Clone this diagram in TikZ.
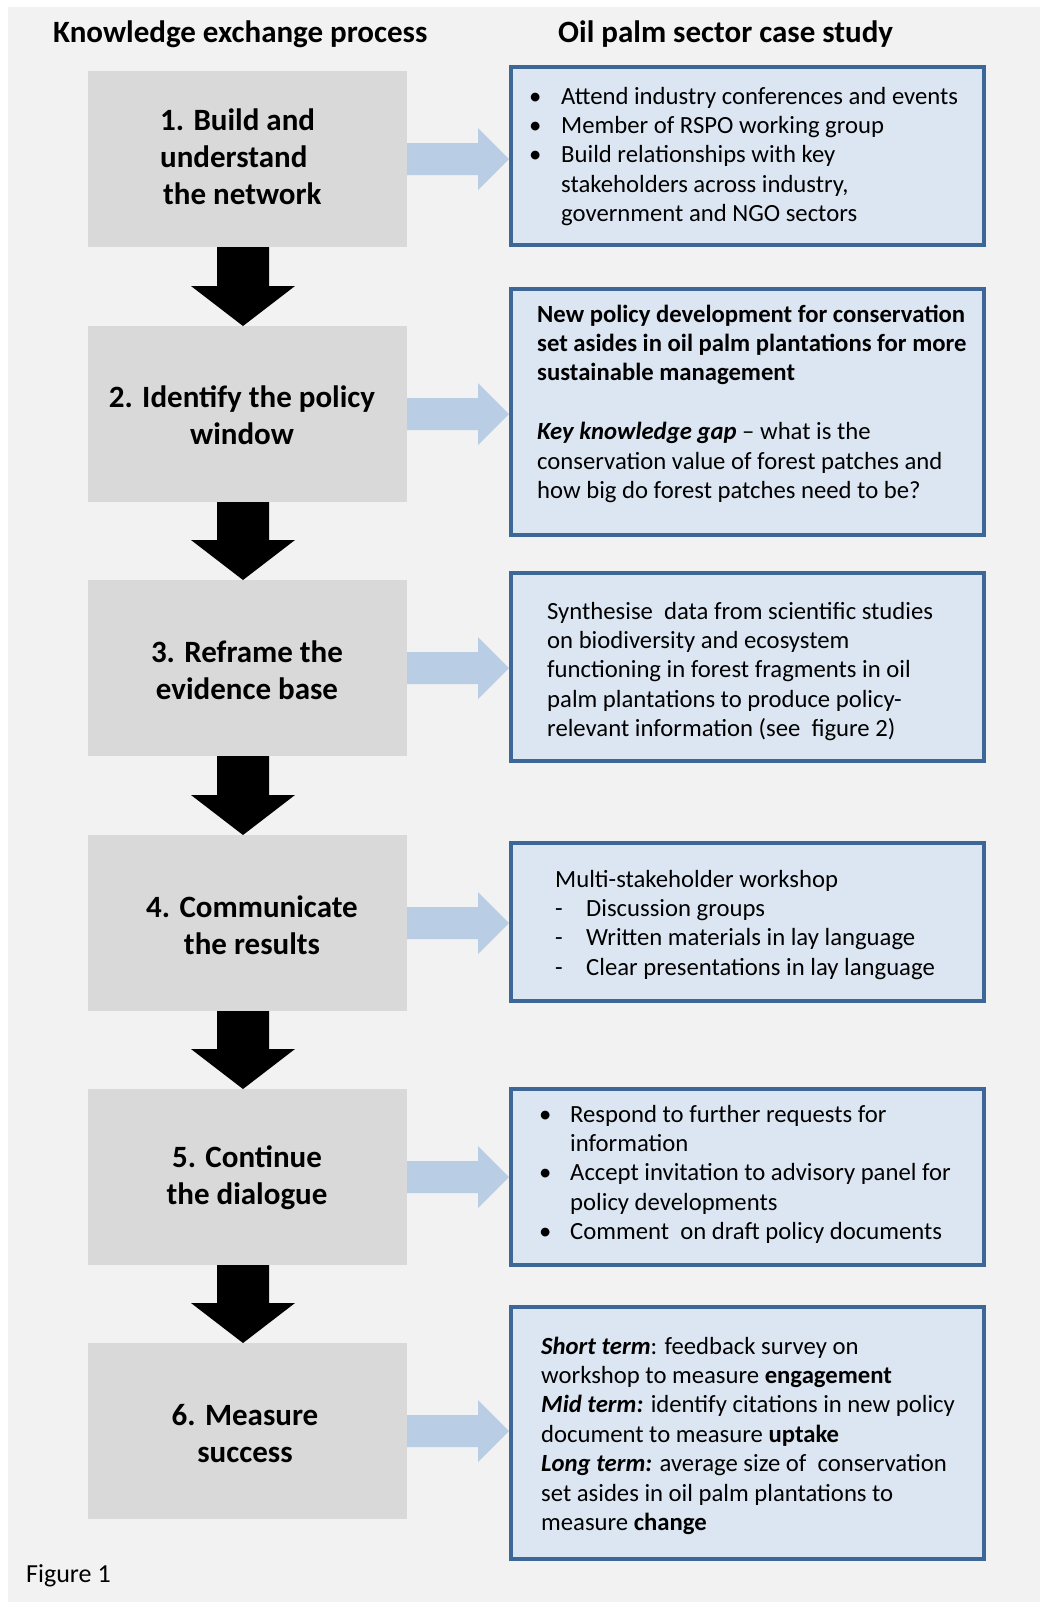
\documentclass[tikz,border=0pt]{standalone}
\usepackage{fontspec}
\setmainfont{Carlito}
\usetikzlibrary{calc}
\definecolor{bgc}{HTML}{F2F2F2}
\definecolor{grayc}{HTML}{D9D9D9}
\definecolor{arrowblue}{HTML}{B9CDE5}
\definecolor{boxfill}{HTML}{DCE6F2}
\definecolor{boxline}{HTML}{3D6796}
\newcommand{\bulA}{\makebox[32pt][l]{•}}
\newcommand{\indA}{\hspace*{32pt}}
\newcommand{\bulB}{\makebox[31pt][l]{•}}
\newcommand{\indB}{\hspace*{31pt}}
\newcommand{\dshB}{\makebox[31pt][l]{-}}
\newcommand{\dblsp}{\hspace{0.45em}}
\begin{document}
\begin{tikzpicture}[x=1pt,y=-1pt,
  stepbox/.style={fill=grayc, minimum width=319pt, minimum height=176pt, inner sep=0pt, outer sep=0pt},
  steptext/.style={anchor=base, inner sep=0pt, font=\fontsize{31}{37}\selectfont\bfseries},
  infobox/.style={fill=boxfill, draw=boxline, line width=4pt, minimum width=473pt, inner sep=0pt},
  info/.style={anchor=base west, inner sep=0pt, font=\fontsize{24.7}{29.4}\selectfont},
  head/.style={anchor=base west, inner sep=0pt, font=\fontsize{31}{37}\selectfont\bfseries},
  sidearrow/.style={fill=arrowblue},
  downarrow/.style={fill=black}
]
\useasboundingbox[fill=white] (0,0) rectangle (1040,1607);
\fill[bgc] (8,7) rectangle (1040,1602);

% headers
\node[head] (h1) at (53,42) {Knowledge exchange process};
\node[head] (h2) at (558,42) {Oil palm sector case study};

% gray step boxes
\node[stepbox] (g1) at (247.5,159) {};
\node[stepbox] (g2) at (247.5,414) {};
\node[stepbox] (g3) at (247.5,668) {};
\node[stepbox] (g4) at (247.5,923) {};
\node[stepbox] (g5) at (247.5,1177) {};
\node[stepbox] (g6) at (247.5,1431) {};

\node[steptext, anchor=base west] (s1) at (160,130) {\parbox[t]{200pt}{\raggedright 1. Build and\\understand\\\hspace*{3pt}the network}};
\node[steptext] (s2) at (242,407) {\parbox[t]{300pt}{\centering 2. Identify the policy\\window}};
\node[steptext] (s3) at (247,662) {\parbox[t]{300pt}{\centering 3. Reframe the\\evidence base}};
\node[steptext] (s4) at (252,917) {\parbox[t]{300pt}{\centering 4. Communicate\\the results}};
\node[steptext] (s5) at (247,1167) {\parbox[t]{300pt}{\centering 5. Continue\\the dialogue}};
\node[steptext] (s6) at (245,1425) {\parbox[t]{300pt}{\centering 6. Measure\\success}};

% blue info boxes
\node[infobox, minimum height=178pt] (b1) at (747.5,156) {};
\node[infobox, minimum height=246pt] (b2) at (747.5,412) {};
\node[infobox, minimum height=188pt] (b3) at (747.5,667) {};
\node[infobox, minimum height=158pt] (b4) at (747.5,922) {};
\node[infobox, minimum height=176pt] (b5) at (747.5,1177) {};
\node[infobox, minimum height=252pt] (b6) at (747.5,1433) {};

\node[info] (i1) at (529,104) {\parbox[t]{455pt}{%
\bulA Attend industry conferences and events\\
\bulA Member of RSPO working group\\
\bulA Build relationships with key\\
\indA stakeholders across industry,\\
\indA government and NGO sectors}};

\node[info] (i2) at (537,322) {\parbox[t]{455pt}{%
\textbf{New policy development for conservation}\\
\textbf{set asides in oil palm plantations for more}\\
\textbf{sustainable management}\\[29.4pt]
\textbf{\textit{Key knowledge gap}} – what is the\\
conservation value of forest patches and\\
how big do forest patches need to be?}};

\node[info] (i3) at (547,619) {\parbox[t]{455pt}{%
Synthesise\dblsp data from scientific studies\\
on biodiversity and ecosystem\\
functioning in forest fragments in oil\\
palm plantations to produce policy-\\
relevant information (see\dblsp figure 2)}};

\node[info] (i4) at (555,887) {\parbox[t]{455pt}{%
Multi-stakeholder workshop\\
\dshB Discussion groups\\
\dshB Written materials in lay language\\
\dshB Clear presentations in lay language}};

\node[info] (i5) at (539,1122) {\parbox[t]{455pt}{%
\bulB Respond to further requests for\\
\indB information\\
\bulB Accept invitation to advisory panel for\\
\indB policy developments\\
\bulB Comment\dblsp on draft policy documents}};

\node[info] (i6) at (541,1354) {\parbox[t]{455pt}{%
\textbf{\textit{Short term}}: feedback survey on\\
workshop to measure \textbf{engagement}\\
\textbf{\textit{Mid term:}} identify citations in new policy\\
document to measure \textbf{uptake}\\
\textbf{\textit{Long term:}} average size of\dblsp conservation\\
set asides in oil palm plantations to\\
measure \textbf{change}}};

% side arrows
\foreach \i in {1,...,6}{
  \fill[sidearrow] ($(g\i.east)+(0,-16)$) -- ($(g\i.east)+(71,-16)$) -- ($(g\i.east)+(71,-31)$)
    -- (g\i.east -| b\i.west) -- ($(g\i.east)+(71,31)$) -- ($(g\i.east)+(71,16)$)
    -- ($(g\i.east)+(0,16)$) -- cycle;
}
% down arrows
\foreach \i/\j in {1/2,2/3,3/4,4/5,5/6}{
  \fill[downarrow] ($(g\i.south)+(-30.5,0)$) -- ($(g\i.south)+(21.5,0)$)
    -- ($(g\j.north)+(21.5,-40)$) -- ($(g\j.north)+(47.5,-40)$)
    -- ($(g\j.north)+(-4.5,0)$) -- ($(g\j.north)+(-56.5,-40)$)
    -- ($(g\j.north)+(-30.5,-40)$) -- cycle;
}

\node[info, font=\fontsize{26}{30}\selectfont] (fig) at (26,1582) {Figure 1};
\end{tikzpicture}
\end{document}
